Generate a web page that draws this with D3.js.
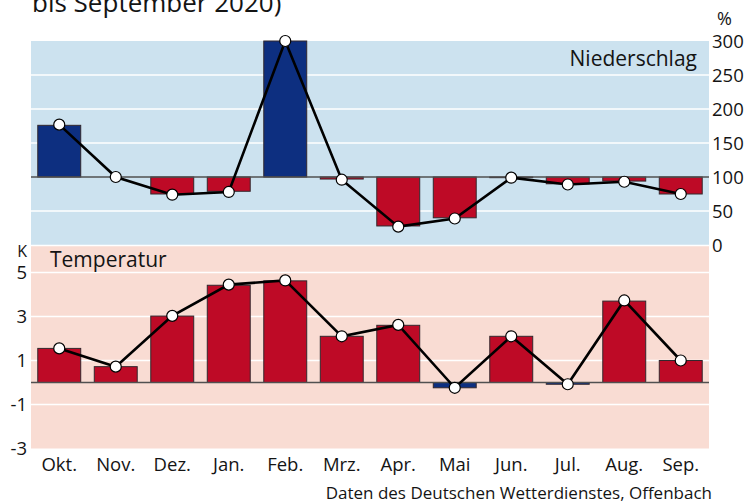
<!DOCTYPE html>
<head>
	<meta charset="UTF-8">
	<script src="https://d3js.org/d3.v7.min.js"></script>
<style>
	body{ margin: 0; background-color: white; }
	svg{ display: block; }
	text{ font-family: 'Open Sans', sans-serif; fill: rgb(20,20,20); }
</style>
</head>
<body>
	<svg width=756 height=504></svg>
</body>
<script>
	// Data
	var months = ["Okt.", "Nov.", "Dez.", "Jan.", "Feb.", "Mrz.", "Apr.", "Mai", "Jun.", "Jul.", "Aug.", "Sep."];
	// Niederschlag in % (bars and line)
	var rainBars = [176, 100, 75, 79, 300, 97, 28, 40, 99, 90, 94, 75];
	var rainLine = [177, 100, 74, 78, 300, 96, 27, 39, 99, 89, 93, 75];
	// Temperatur in K (bars and line)
	var tempBars = [1.55, 0.72, 3.02, 4.42, 4.62, 2.1, 2.6, -0.24, 2.1, -0.08, 3.7, 1.0];
	var tempLine = [1.55, 0.72, 3.03, 4.45, 4.64, 2.1, 2.62, -0.24, 2.1, -0.08, 3.73, 1.0];
	var rainTicks = [0, 50, 100, 150, 200, 250, 300];
	var tempTicks = [5, 3, 1, -1, -3];

	var blue = "rgb(13,47,128)";
	var red = "rgb(190,10,38)";

	var svg = d3.select("svg");
	var left = 31, right = 709;

	var x = d3.scaleBand()
			.domain(months)
			.range([left, right])
			.paddingInner(0.24)
			.paddingOuter(0.12);

	var yRain = d3.scaleLinear().domain([0, 300]).range([245, 41]);
	var yTemp = d3.scaleLinear().domain([-3, 6.25]).range([448.5, 245]);

	// Title (cut off at the top like the original)
	svg.append("text")
		.text("bis September 2020)")
		.attr("x", 32)
		.attr("y", 12)
		.attr("font-size", 26);

	// Panel backgrounds
	svg.append("rect")
		.attr("x", left).attr("y", yRain(300))
		.attr("width", right - left).attr("height", yRain(0) - yRain(300))
		.style("fill", "rgb(204,226,239)");
	svg.append("rect")
		.attr("x", left).attr("y", yTemp(6.25))
		.attr("width", right - left).attr("height", yTemp(-3) - yTemp(6.25))
		.style("fill", "rgb(249,220,211)");
	svg.append("line")
		.attr("x1", left).attr("x2", right)
		.attr("y1", yTemp(6.25) + 0.5).attr("y2", yTemp(6.25) + 0.5)
		.style("stroke", "white").style("stroke-width", 1.5);

	// Gridlines
	svg.append("g").selectAll("line")
		.data([50, 150, 200, 250]).enter()
		.append("line")
		.attr("x1", left).attr("x2", right)
		.attr("y1", d => yRain(d)).attr("y2", d => yRain(d))
		.style("stroke", "white").style("stroke-width", 1.5);
	svg.append("g").selectAll("line")
		.data([5, 3, 1, -1]).enter()
		.append("line")
		.attr("x1", left).attr("x2", right)
		.attr("y1", d => yTemp(d)).attr("y2", d => yTemp(d))
		.style("stroke", "white").style("stroke-width", 1.5);

	// Panel labels
	svg.append("text").text("Niederschlag")
		.attr("x", 697).attr("y", 66)
		.attr("text-anchor", "end").attr("font-size", 21);
	svg.append("text").text("Temperatur")
		.attr("x", 50).attr("y", 267)
		.attr("font-size", 21);

	// Bars
	svg.append("g").selectAll("rect")
		.data(rainBars).enter()
		.append("rect")
		.attr("x", (d, i) => x(months[i]))
		.attr("width", x.bandwidth())
		.attr("y", d => Math.min(yRain(d), yRain(100)))
		.attr("height", d => Math.abs(yRain(d) - yRain(100)))
		.style("fill", d => d >= 100 ? blue : red)
		.style("stroke", "rgb(50,40,45)").style("stroke-width", 1);
	svg.append("g").selectAll("rect")
		.data(tempBars).enter()
		.append("rect")
		.attr("x", (d, i) => x(months[i]))
		.attr("width", x.bandwidth())
		.attr("y", d => Math.min(yTemp(d), yTemp(0)))
		.attr("height", d => Math.abs(yTemp(d) - yTemp(0)))
		.style("fill", d => d >= 0 ? red : blue)
		.style("stroke", "rgb(50,40,45)").style("stroke-width", 1);

	// Base lines
	svg.append("line")
		.attr("x1", left).attr("x2", right)
		.attr("y1", yRain(100)).attr("y2", yRain(100))
		.style("stroke", "rgb(80,80,80)").style("stroke-width", 1.3);
	svg.append("line")
		.attr("x1", left).attr("x2", right)
		.attr("y1", yTemp(0)).attr("y2", yTemp(0))
		.style("stroke", "rgb(80,80,80)").style("stroke-width", 1.3);

	// Lines with dots
	var cx = (d, i) => x(months[i]) + x.bandwidth() / 2;
	function drawLine(values, y){
		svg.append("path")
			.datum(values)
			.attr("d", d3.line().x(cx).y(d => y(d)))
			.style("fill", "none")
			.style("stroke", "black")
			.style("stroke-width", 2.6);
		svg.append("g").selectAll("circle")
			.data(values).enter()
			.append("circle")
			.attr("cx", cx)
			.attr("cy", d => y(d))
			.attr("r", 5.5)
			.style("fill", "white")
			.style("stroke", "black")
			.style("stroke-width", 1.2);
	}
	drawLine(rainLine, yRain);
	drawLine(tempLine, yTemp);

	// Axis labels
	svg.append("g").selectAll("text")
		.data(rainTicks).enter()
		.append("text")
		.text(d => d)
		.attr("x", 712)
		.attr("y", d => yRain(d) + 7)
		.attr("font-size", 18.5);
	svg.append("text").text("%")
		.attr("x", 717).attr("y", 25).attr("font-size", 18);

	svg.append("g").selectAll("text")
		.data(tempTicks).enter()
		.append("text")
		.text(d => d)
		.attr("x", 27)
		.attr("y", d => yTemp(d) + 6.5)
		.attr("text-anchor", "end")
		.attr("font-size", 18.5);
	svg.append("text").text("K")
		.attr("x", 27).attr("y", 257)
		.attr("text-anchor", "end").attr("font-size", 16);

	svg.append("g").selectAll("text")
		.data(months).enter()
		.append("text")
		.text(d => d)
		.attr("x", d => x(d) + x.bandwidth() / 2)
		.attr("y", 471)
		.attr("text-anchor", "middle")
		.attr("font-size", 18.5);

	// Source
	svg.append("text").text("Daten des Deutschen Wetterdienstes, Offenbach")
		.attr("x", 712).attr("y", 499)
		.attr("text-anchor", "end").attr("font-size", 17);
</script>
